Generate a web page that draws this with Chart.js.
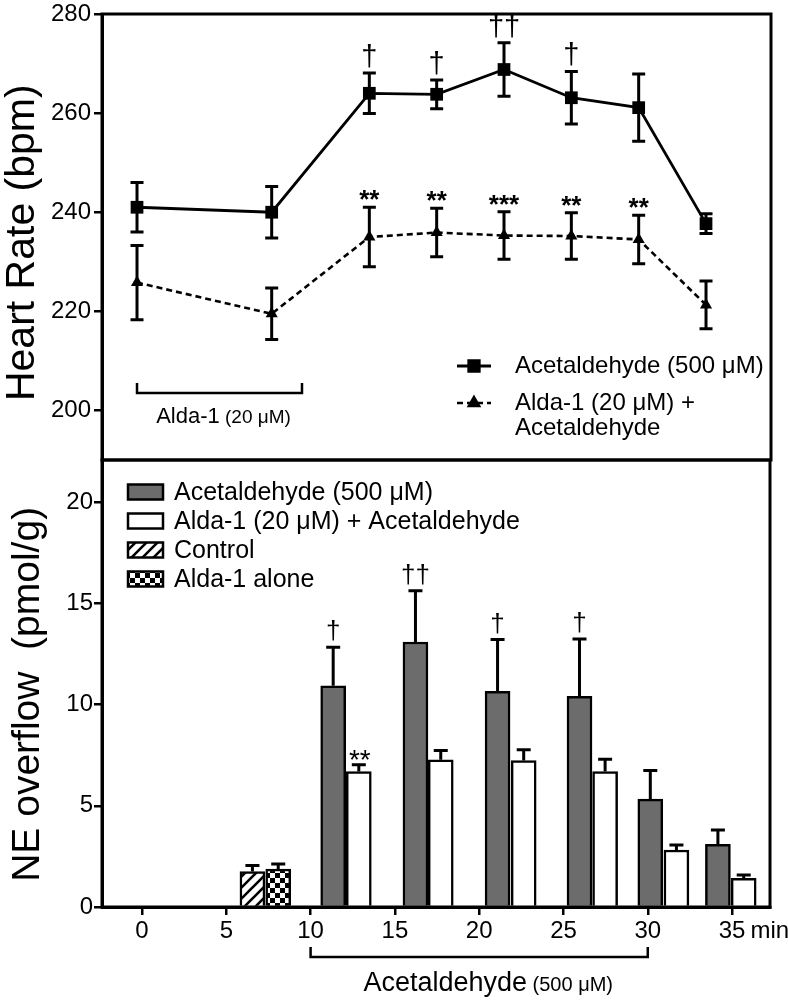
<!DOCTYPE html>
<html>
<head>
<meta charset="utf-8">
<script src="https://cdn.jsdelivr.net/npm/chart.js@4.4.1/dist/chart.umd.min.js"></script>
<style>
  body { margin: 0; background: #fff; }
  canvas { position: absolute; left: 0; }
  #hr { top: 0; }
  #ne { top: 458px; }
</style>
</head>
<body>
<canvas id="hr" width="788" height="462"></canvas>
<canvas id="ne" width="788" height="543"></canvas>
<script>
// ---- top panel: heart rate (bpm), one point per sampling slot ----
const hrSlot = [0, 2, 3.45, 4.45, 5.45, 6.45, 7.45, 8.45];
const hrAcet = [241, 240, 264, 263.8, 268.8, 263.1, 261.1, 237.7];
const hrAcetErr = [5, 5.2, 4.1, 2.9, 5.4, 5.3, 6.8, 2];
const hrAcetMarks = ['', '', '†', '†', '††', '†', '', ''];
const hrAlda = [225.8, 219.5, 235, 235.9, 235.3, 235.2, 234.5, 221.3];
const hrAldaErr = [7.5, 5.2, 6, 4.9, 4.8, 4.7, 4.9, 4.8];
const hrAldaMarks = ['', '', '**', '**', '***', '**', '**', ''];
const hrTicks = [200, 220, 240, 260, 280];
const hrAldaSpan = [0, 2.45];

// ---- bottom panel: NE overflow (pmol/g) against time (min) ----
const neTicksX = [0, 5, 10, 15, 20, 25, 30, 35];
const neTicksY = [0, 5, 10, 15, 20];
const acetMin = [11.34, 16.22, 21.09, 25.95, 30.15, 34.16];
const acetNE = [10.94, 13.10, 10.66, 10.41, 5.33, 3.10];
const acetNEErr = [1.9, 2.54, 2.56, 2.84, 1.42, 0.71];
const acetNEMarks = ['†', '††', '†', '†', '', ''];
const aldaMin = [12.86, 17.72, 22.64, 27.47, 31.70, 35.69];
const aldaNE = [6.70, 7.28, 7.24, 6.70, 2.82, 1.42];
const aldaNEErr = [0.33, 0.46, 0.53, 0.61, 0.25, 0.16];
const aldaNEMarks = ['**', '', '', '', '', ''];
const controlMin = [6.55];
const controlNE = [1.75];
const controlNEErr = [0.3];
const aloneMin = [8.08];
const aloneNE = [1.88];
const aloneNEErr = [0.25];
const acetSpan = [10, 30];

const FONT = '"Liberation Sans", Arial, sans-serif';
const pts = (xs, ys) => xs.map((x, i) => ({ x: x, y: ys[i] }));

function hatchPattern() {
  const s = 11;
  const c = document.createElement('canvas');
  c.width = c.height = s;
  const g = c.getContext('2d');
  g.fillStyle = '#fff';
  g.fillRect(0, 0, s, s);
  g.strokeStyle = '#000';
  g.lineWidth = 2.6;
  g.beginPath();
  g.moveTo(0, s); g.lineTo(s, 0);
  g.moveTo(-3, 3); g.lineTo(3, -3);
  g.moveTo(s - 3, s + 3); g.lineTo(s + 3, s - 3);
  g.stroke();
  return g.createPattern(c, 'repeat');
}

function checkerPattern() {
  const c = document.createElement('canvas');
  c.width = c.height = 10;
  const g = c.getContext('2d');
  g.fillStyle = '#fff';
  g.fillRect(0, 0, 10, 10);
  g.fillStyle = '#000';
  g.fillRect(0, 0, 5, 5);
  g.fillRect(5, 5, 5, 5);
  return g.createPattern(c, 'repeat');
}

// error bars + significance symbols, positioned with the chart scales
const errorBars = {
  id: 'errorBars',
  afterDatasetsDraw(chart, args, opts) {
    const ctx = chart.ctx;
    const xs = chart.scales.x, ys = chart.scales.y;
    ctx.save();
    ctx.strokeStyle = '#000';
    ctx.fillStyle = '#000';
    ctx.lineWidth = opts.width;
    chart.data.datasets.forEach(ds => {
      if (!ds.err) return;
      ds.data.forEach((p, i) => {
        const x = xs.getPixelForValue(p.x);
        const yHi = ys.getPixelForValue(p.y + ds.err[i]);
        const yLo = ys.getPixelForValue(opts.both ? p.y - ds.err[i] : p.y);
        ctx.beginPath();
        ctx.moveTo(x, yLo);
        ctx.lineTo(x, yHi);
        ctx.moveTo(x - opts.cap / 2, yHi);
        ctx.lineTo(x + opts.cap / 2, yHi);
        if (opts.both) {
          ctx.moveTo(x - opts.cap / 2, yLo);
          ctx.lineTo(x + opts.cap / 2, yLo);
        }
        ctx.stroke();
        const mark = ds.marks && ds.marks[i];
        if (mark) {
          const m = mark.includes('*') ? opts.star : opts.dagger;
          ctx.font = m.font;
          ctx.textAlign = 'center';
          ctx.textBaseline = 'alphabetic';
          ctx.fillText(mark, x + (m.dx || 0), yHi - m.gap);
        }
      });
    });
    ctx.restore();
  }
};

function bracket(ctx, x1, x2, y, rise) {
  ctx.beginPath();
  ctx.moveTo(x1, y - rise);
  ctx.lineTo(x1, y);
  ctx.lineTo(x2, y);
  ctx.lineTo(x2, y - rise);
  ctx.stroke();
}

function mixedText(ctx, parts, cx, baseY) {
  let w = 0;
  parts.forEach(p => { ctx.font = p.font; p.w = ctx.measureText(p.text).width; w += p.w; });
  let x = cx - w / 2;
  ctx.textAlign = 'left';
  ctx.textBaseline = 'alphabetic';
  parts.forEach(p => { ctx.font = p.font; ctx.fillText(p.text, x, baseY); x += p.w; });
}

const topPanel = {
  id: 'topPanel',
  afterDraw(chart) {
    const ctx = chart.ctx, a = chart.chartArea, xs = chart.scales.x;
    ctx.save();
    ctx.strokeStyle = '#000';
    ctx.fillStyle = '#000';
    ctx.lineWidth = 3;
    ctx.strokeRect(a.left, a.top, a.right - a.left, a.bottom - a.top);

    // Alda-1 pretreatment bracket
    ctx.lineWidth = 2.5;
    const bx1 = xs.getPixelForValue(hrAldaSpan[0]), bx2 = xs.getPixelForValue(hrAldaSpan[1]);
    bracket(ctx, bx1, bx2, a.bottom - 67, 10);
    mixedText(ctx, [
      { text: 'Alda-1', font: '22px ' + FONT },
      { text: ' (20 μM)', font: '19px ' + FONT }
    ], (bx1 + bx2) / 2 + 4, a.bottom - 37);

    // legend
    const ds = chart.data.datasets;
    const lx = a.right - 314, tx = a.right - 256;
    const rows = [a.bottom - 94, a.bottom - 57];
    ds.forEach((d, i) => {
      const y = rows[i];
      ctx.save();
      ctx.lineWidth = d.borderWidth;
      ctx.setLineDash(d.borderDash || []);
      ctx.beginPath();
      ctx.moveTo(lx, y);
      ctx.lineTo(lx + 34, y);
      ctx.stroke();
      ctx.restore();
      Chart.helpers.drawPoint(ctx, { pointStyle: d.pointStyle, radius: d.pointRadius * 0.85, borderWidth: 1 }, lx + 17, y);
      ctx.fill();
      ctx.font = '24px ' + FONT;
      ctx.textAlign = 'left';
      ctx.textBaseline = 'middle';
      d.legendLines.forEach((t, k) => ctx.fillText(t, tx, y + k * 25));
    });
    ctx.restore();
  }
};

const bottomPanel = {
  id: 'bottomPanel',
  afterDraw(chart) {
    const ctx = chart.ctx, a = chart.chartArea, xs = chart.scales.x;
    ctx.save();
    ctx.strokeStyle = '#000';
    ctx.fillStyle = '#000';
    ctx.lineWidth = 3;
    ctx.strokeRect(a.left, a.top, a.right - a.left, a.bottom - a.top);

    // "min" after the last tick label
    const items = xs.getLabelItems();
    const last = items[items.length - 1];
    ctx.font = '24px ' + FONT;
    const w35 = ctx.measureText(String(last.label)).width;
    ctx.textAlign = 'left';
    ctx.textBaseline = last.options.textBaseline;
    ctx.fillText('min', last.options.translation[0] + w35 / 2 + 5, last.options.translation[1] + last.textOffset);

    // acetaldehyde perfusion bracket
    ctx.lineWidth = 2.5;
    const bx1 = xs.getPixelForValue(acetSpan[0]), bx2 = xs.getPixelForValue(acetSpan[1]);
    bracket(ctx, bx1, bx2, a.bottom + 50, 10);
    mixedText(ctx, [
      { text: 'Acetaldehyde', font: '27px ' + FONT },
      { text: ' (500 μM)', font: '20px ' + FONT }
    ], (bx1 + bx2) / 2 + 9, a.bottom + 84);

    // legend
    chart.data.datasets.forEach((d, i) => {
      const y = a.top + 32 + i * 29;
      ctx.fillStyle = d.backgroundColor;
      ctx.fillRect(a.left + 26, y - 7.5, 35, 15);
      ctx.lineWidth = 2.5;
      ctx.strokeRect(a.left + 26, y - 7.5, 35, 15);
      ctx.fillStyle = '#000';
      ctx.font = '25px ' + FONT;
      ctx.textBaseline = 'middle';
      ctx.fillText(d.label, a.left + 72, y + 1);
    });
    ctx.restore();
  }
};

function yAxis(min, max, ticks, title, titleSize, titlePad, tickPad) {
  return {
    min: min,
    max: max,
    afterBuildTicks: s => { s.ticks = ticks.map(v => ({ value: v })); },
    afterFit: s => { s.width = 102; s.paddingTop = 0; s.paddingBottom = 0; },
    ticks: { color: '#000', padding: tickPad, font: { family: FONT, size: 24, lineHeight: 1 } },
    grid: { drawOnChartArea: false, tickLength: 8, color: '#000', lineWidth: 2.5 },
    border: { display: true, color: '#000', width: 3 },
    title: {
      display: true, text: title, color: '#000',
      font: { family: FONT, size: titleSize, lineHeight: 1 },
      padding: { top: titlePad, bottom: 0 }
    }
  };
}

new Chart(document.getElementById('hr'), {
  type: 'line',
  data: {
    datasets: [
      {
        label: 'Acetaldehyde (500 μM)',
        legendLines: ['Acetaldehyde (500 μM)'],
        data: pts(hrSlot, hrAcet),
        err: hrAcetErr,
        marks: hrAcetMarks,
        borderColor: '#000',
        backgroundColor: '#000',
        borderWidth: 2.8,
        pointStyle: 'rect',
        pointRadius: 9,
        pointBorderWidth: 0
      },
      {
        label: 'Alda-1 (20 μM) + Acetaldehyde',
        legendLines: ['Alda-1 (20 μM) +', 'Acetaldehyde'],
        data: pts(hrSlot, hrAlda),
        err: hrAldaErr,
        marks: hrAldaMarks,
        borderColor: '#000',
        backgroundColor: '#000',
        borderWidth: 2.6,
        borderDash: [6, 4],
        pointStyle: 'triangle',
        pointRadius: 7,
        pointBorderWidth: 0
      }
    ]
  },
  options: {
    responsive: false,
    animation: false,
    layout: { autoPadding: false, padding: { top: 14, right: 17, bottom: 2, left: 0 } },
    plugins: {
      legend: { display: false },
      tooltip: { enabled: false },
      errorBars: {
        width: 3, cap: 13, both: true,
        dagger: { font: '29px ' + FONT, gap: 7 },
        star: { font: 'bold 26px ' + FONT, gap: -1 }
      }
    },
    scales: {
      x: { type: 'linear', display: false, min: -0.52, max: 9.415 },
      y: yAxis(190, 280, hrTicks, 'Heart Rate (bpm) ', 41, 2, 3)
    }
  },
  plugins: [errorBars, topPanel]
});

const barBase = { borderColor: '#000', borderWidth: 2.5, barThickness: 25, stack: 'all' };

new Chart(document.getElementById('ne'), {
  type: 'bar',
  data: {
    datasets: [
      Object.assign({ label: 'Acetaldehyde (500 μM)', data: pts(acetMin, acetNE), err: acetNEErr, marks: acetNEMarks, backgroundColor: '#6c6c6c' }, barBase),
      Object.assign({ label: 'Alda-1 (20 μM) + Acetaldehyde', data: pts(aldaMin, aldaNE), err: aldaNEErr, marks: aldaNEMarks, backgroundColor: '#fff' }, barBase),
      Object.assign({ label: 'Control', data: pts(controlMin, controlNE), err: controlNEErr, backgroundColor: hatchPattern() }, barBase),
      Object.assign({ label: 'Alda-1 alone', data: pts(aloneMin, aloneNE), err: aloneNEErr, backgroundColor: checkerPattern() }, barBase)
    ]
  },
  options: {
    responsive: false,
    animation: false,
    layout: { autoPadding: false, padding: { top: 2, right: 18, bottom: 0, left: 0 } },
    plugins: {
      legend: { display: false },
      tooltip: { enabled: false },
      errorBars: {
        width: 3, cap: 14, both: false,
        dagger: { font: '26px ' + FONT, gap: 8 },
        star: { font: '28px ' + FONT, gap: -4, dx: 1 }
      }
    },
    scales: {
      x: {
        type: 'linear',
        min: -2.373,
        max: 37.25,
        offset: false,
        afterBuildTicks: s => { s.ticks = neTicksX.map(v => ({ value: v })); },
        afterFit: s => { s.height = 94; },
        ticks: { color: '#000', padding: 4, maxRotation: 0, font: { family: FONT, size: 24, lineHeight: 1 } },
        grid: { drawOnChartArea: false, offset: false, tickLength: 8, color: '#000', lineWidth: 2.5 },
        border: { display: true, color: '#000', width: 3 }
      },
      y: Object.assign(yAxis(0, 22.1, neTicksY, 'NE overflow  (pmol/g)  ', 39, 9, 1), { stacked: false, beginAtZero: true })
    }
  },
  plugins: [errorBars, bottomPanel]
});
</script>
</body>
</html>
